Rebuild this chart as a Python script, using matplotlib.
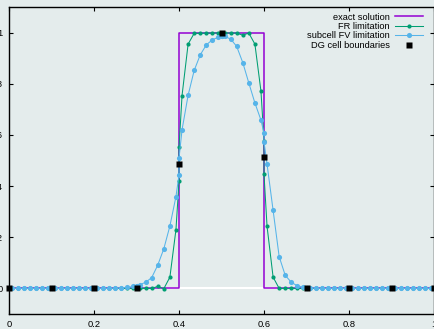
import matplotlib
matplotlib.use("Agg")
import matplotlib.pyplot as plt
import numpy as np

plt.rcParams["font.family"] = ["Liberation Sans", "DejaVu Sans"]

# DG cells on [0, 1]; each cell is sampled at its left edge, 7 subcell centres, right edge
n_cells = 10
n_sub = 7

# exact solution (box)
exact_x = [0.0, 0.4, 0.4, 0.6, 0.6, 1.0]
exact_y = [0.0, 0.0, 1.0, 1.0, 0.0, 0.0]

# FR limitation, 9 samples per cell
fr_y = [
    [0, 0, 0, 0, 0, 0, 0, 0, 0],
    [0, 0, 0, 0, 0, 0, 0, 0, 0],
    [0, 0, 0, 0, 0, 0, 0, 0, 0],
    [0, 0, 0, 0, 0.008, -0.001, 0.044, 0.23, 0.418],
    [0.551, 0.754, 0.955, 0.997, 0.997, 0.998, 0.998, 0.999, 1.0],
    [1.0, 0.999, 0.998, 0.998, 0.99, 0.998, 0.955, 0.771, 0.577],
    [0.446, 0.243, 0.044, 0, 0, 0, 0, 0, 0],
    [0, 0, 0, 0, 0, 0, 0, 0, 0],
    [0, 0, 0, 0, 0, 0, 0, 0, 0],
    [0, 0, 0, 0, 0, 0, 0, 0, 0],
]

# subcell FV limitation, 9 samples per cell
fv_y = [
    [0, 0, 0, 0, 0, 0, 0, 0, 0],
    [0, 0, 0, 0, 0, 0, 0, 0, 0],
    [0, 0, 0, 0, 0.001, 0.002, 0.004, 0.008, 0.010],
    [0.011, 0.014, 0.024, 0.042, 0.091, 0.155, 0.244, 0.359, 0.444],
    [0.508, 0.62, 0.755, 0.852, 0.913, 0.952, 0.972, 0.982, 0.985],
    [0.986, 0.985, 0.975, 0.946, 0.883, 0.803, 0.725, 0.658, 0.607],
    [0.573, 0.486, 0.305, 0.124, 0.051, 0.024, 0.010, 0.005, 0.003],
    [0.003, 0.002, 0.001, 0, 0, 0, 0, 0, 0],
    [0, 0, 0, 0, 0, 0, 0, 0, 0],
    [0, 0, 0, 0, 0, 0, 0, 0, 0],
]

# values at the DG cell boundaries
dg_x = [0.0, 0.1, 0.2, 0.3, 0.4, 0.5, 0.6, 0.7, 0.8, 0.9, 1.0]
dg_y = [0, 0, 0, 0, 0.486, 1.0, 0.513, 0, 0, 0, 0]

xticks = [0, 0.2, 0.4, 0.6, 0.8, 1]
xtick_labels = ["0", "0.2", "0.4", "0.6", "0.8", "1"]
yticks = [0, 0.2, 0.4, 0.6, 0.8, 1]
ytick_labels = ["0", "0.2", "0.4", "0.6", "0.8", "1"]


def sample_x():
    h = 1.0 / n_cells
    xs = []
    for c in range(n_cells):
        x0 = c * h
        xs.append(x0)
        xs.extend(x0 + (j + 0.5) * h / n_sub for j in range(n_sub))
        xs.append(x0 + h)
    return np.array(xs)


bg = "#e4ecec"
xs = sample_x()

fig = plt.figure(figsize=(4.35, 3.29), dpi=100, facecolor=bg)
ax = fig.add_axes([9 / 435, 15 / 329, 425 / 435, 307 / 329], facecolor=bg)

ax.axhline(0, color="white", lw=1.5, zorder=1)
ax.plot(exact_x, exact_y, color="#9400d3", lw=1.1, zorder=2, label="exact solution")
ax.plot(xs, np.ravel(fr_y), color="#009e73", lw=0.75, marker="o", ms=3.0,
        mec="none", zorder=3, label="FR limitation")
ax.plot(xs, np.ravel(fv_y), color="#56b4e9", lw=0.75, marker="o", ms=3.7,
        mec="none", zorder=4, label="subcell FV limitation")
ax.plot(dg_x, dg_y, ls="none", color="black", marker="s", ms=4.3, mec="none",
        zorder=5, clip_on=False, label="DG cell boundaries")

ax.set_xlim(0, 1)
ax.set_ylim(-0.1, 1.1)
ax.set_xticks(xticks, xtick_labels)
ax.set_yticks(yticks, ytick_labels)
ax.tick_params(direction="in", length=3, width=0.8, top=True, right=True,
               labelsize=6.7, pad=4.5, colors="black")
for sp in ax.spines.values():
    sp.set_linewidth(1.0)

leg = ax.legend(loc="upper right", bbox_to_anchor=(0.974, 0.982), frameon=False,
                markerfirst=False, fontsize=6.7, handlelength=3.0,
                handletextpad=0.55, labelspacing=0.05, borderpad=0,
                borderaxespad=0, numpoints=1)
for t in leg.get_texts():
    t.set_ha("right")

fig.savefig("out.png", dpi=100, facecolor=bg)
